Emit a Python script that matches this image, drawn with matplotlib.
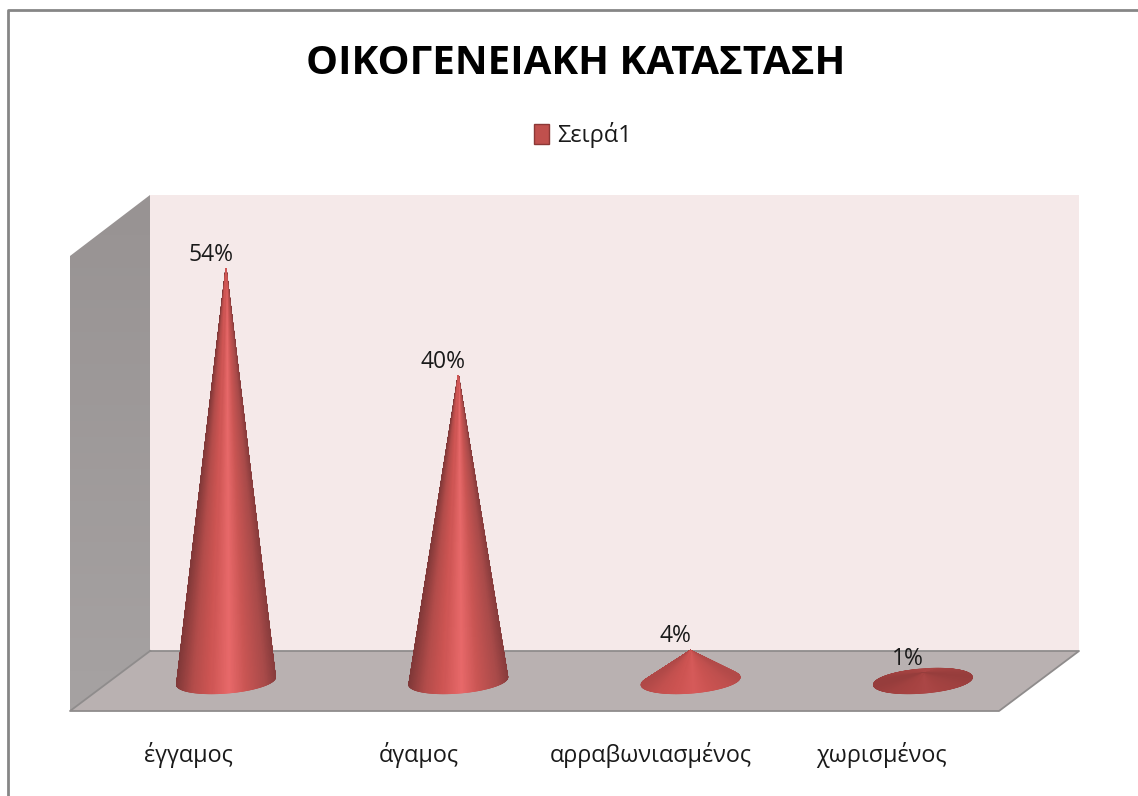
import numpy as np
import matplotlib
matplotlib.use("Agg")
import matplotlib.pyplot as plt
from matplotlib.collections import PolyCollection
from matplotlib.colors import LinearSegmentedColormap, to_rgb
from matplotlib.patches import Patch, Polygon

plt.rcParams["font.family"] = ["Open Sans", "DejaVu Sans"]

title = "ΟΙΚΟΓΕΝΕΙΑΚΗ ΚΑΤΑΣΤΑΣΗ"
series_name = "Σειρά1"
categories = ["έγγαμος", "άγαμος", "αρραβωνιασμένος", "χωρισμένος"]
values = [54, 40, 4, 1]
value_labels = ["54%", "40%", "4%", "1%"]

# everything below is drawn in the picture's pixel space
W, H = 1138, 796
BASE_Y = 681
PX_PER_PCT = 7.63
FIRST_X = 226
SLOT = 232.3

shade = LinearSegmentedColormap.from_list("cone", [
    (0.0, "#803838"), (0.17, "#b34c4a"), (0.33, "#cc5452"), (0.53, "#e8696a"),
    (0.7, "#c95553"), (0.9, "#a84a49"), (1.0, "#883c3c"),
])


def draw_cone(ax, cx, value):
    height = value * PX_PER_PCT
    apex = (cx, BASE_Y - height)
    a, b, tilt = 49.5, 12, np.radians(-4.6)
    theta = np.linspace(0, 2 * np.pi, 481)
    ex = a * np.cos(theta)
    ey = b * np.sin(theta)
    px = cx + ex * np.cos(tilt) - ey * np.sin(tilt)
    py = BASE_Y + ex * np.sin(tilt) + ey * np.cos(tilt)

    polys = []
    colors = []
    # low cones lose the side shading: mid red at 4%, dull dark red when nearly flat
    flat = max(0.0, 1 - height / 120) * 0.85
    dark = np.array(to_rgb("#8b3736"))
    mid = np.array(to_rgb("#cb5250"))
    flat_colour = dark + (mid - dark) * min(height / 30, 1)
    for i in range(len(theta) - 1):
        polys.append([apex, (px[i], py[i]), (px[i + 1], py[i + 1])])
        t = (px[i] - px.min()) / (px.max() - px.min())
        c = np.array(shade(t)[:3])
        colors.append(c * (1 - flat) + flat_colour * flat)
    # back half first so the front hides it
    order = np.argsort([p[1][1] for p in polys])
    polys = [polys[i] for i in order]
    colors = [colors[i] for i in order]
    ax.add_collection(PolyCollection(polys, facecolors=colors, edgecolors=colors,
                                     linewidths=0.8, zorder=4))


fig = plt.figure(figsize=(W / 100, H / 100), dpi=100, facecolor="white")
ax = fig.add_axes([0, 0, 1, 1])
ax.set_xlim(0, W)
ax.set_ylim(H, 0)
ax.axis("off")

# chart frame, open on the right and bottom as the picture is cropped
ax.plot([8, 8, W], [H, 10, 10], color="#868686", lw=2, zorder=1)

# 3D box
ax.add_patch(Polygon([(150, 195), (1079, 195), (1079, 651), (150, 651)],
                     fc="#f5e9e9", ec="none", zorder=2))
wall = Polygon([(70, 256), (150, 195), (150, 651), (70, 711)], fc="none", ec="none", zorder=2)
ax.add_patch(wall)
grad = ax.imshow(np.linspace(0, 1, 64).reshape(-1, 1), extent=(70, 150, 711, 195),
                 cmap=LinearSegmentedColormap.from_list("wall", ["#989393", "#a6a2a2"]),
                 aspect="auto", zorder=2)
grad.set_clip_path(wall)
ax.set_xlim(0, W)
ax.set_ylim(H, 0)
ax.add_patch(Polygon([(150, 651), (1079, 651), (999, 711), (70, 711)],
                     fc="#b9b1b1", ec="none", zorder=3))
ax.plot([150, 1079, 999, 70, 150], [651, 651, 711, 711, 651], color="#8f8c8c", lw=1.3, zorder=3)

for i, (name, value, label) in enumerate(zip(categories, values, value_labels)):
    cx = FIRST_X + SLOT * i
    draw_cone(ax, cx, value)
    ax.text(cx - 15, BASE_Y - value * PX_PER_PCT - 14, label, ha="center", va="center",
            fontsize=16.5, color="#1a1a1a", zorder=5)
    ax.text(cx - 38 - i, 755, name, ha="center", va="center",
            fontsize=16.8, color="#1a1a1a", zorder=5)

ax.text(576, 64, title, ha="center", va="center", fontsize=29, fontweight="bold",
        color="black", zorder=5)

ax.legend(handles=[Patch(fc="#c0504d", ec="#8c3836", label=series_name)],
          loc="center", bbox_to_anchor=(583 / W, 1 - 135 / H), frameon=False,
          fontsize=17, handlelength=0.65, handleheight=0.9, handletextpad=0.35,
          labelcolor="#1a1a1a")

fig.savefig("out.png", dpi=100)
